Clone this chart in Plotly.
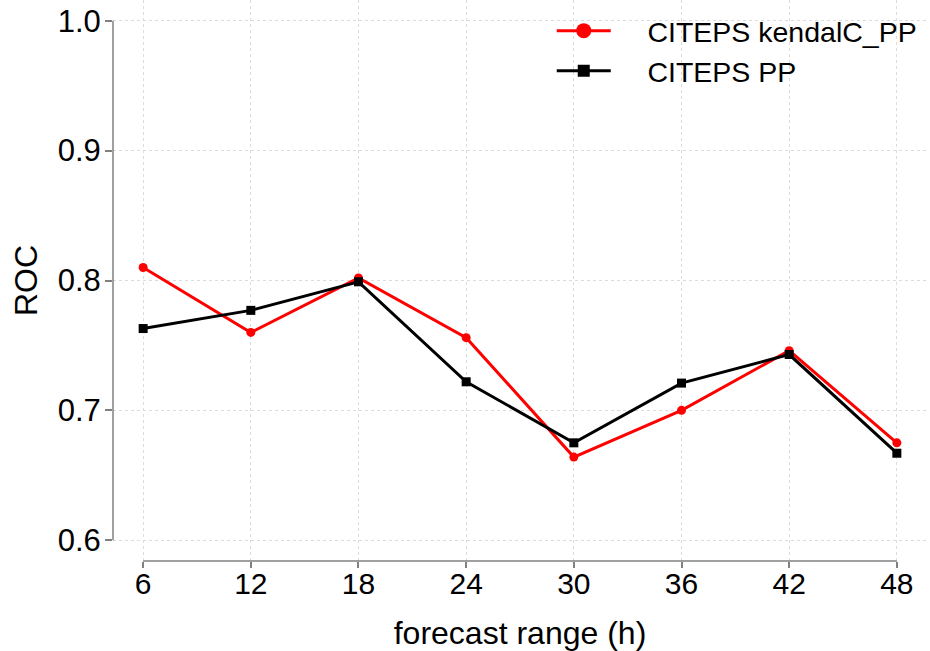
import plotly.graph_objects as go

# Forecast lead times (hours) and ROC area scores
lead_hours = [6, 12, 18, 24, 30, 36, 42, 48]
roc_kendaic_pp = [0.810, 0.760, 0.802, 0.756, 0.664, 0.700, 0.746, 0.675]
roc_pp = [0.763, 0.777, 0.799, 0.722, 0.675, 0.721, 0.743, 0.667]

y_ticks = [0.6, 0.7, 0.8, 0.9, 1.0]
y_tick_text = ["0.6", "0.7", "0.8", "0.9", "1.0"]

series_names = ["CITEPS kendalC_PP", "CITEPS PP"]
series_colors = ["#ff0000", "#000000"]
series_symbols = ["circle", "square"]

FONT = "Liberation Sans, Arial, sans-serif"
AXIS_GRAY = "#808080"
LEGEND_PAD = "\u00a0" * 4  # gap between legend symbol and label

fig = go.Figure()

for name, vals, col, sym in zip(series_names, [roc_kendaic_pp, roc_pp],
                                series_colors, series_symbols):
    fig.add_trace(go.Scatter(
        x=lead_hours, y=vals, mode="lines+markers", name=name,
        line=dict(color=col, width=3),
        marker=dict(symbol=sym, size=9, color=col),
        showlegend=False,
    ))
    # legend entry with a larger symbol
    fig.add_trace(go.Scatter(
        x=[None], y=[None], mode="lines+markers", name=LEGEND_PAD + name,
        line=dict(color=col, width=3),
        marker=dict(symbol=sym, size=15 if sym == "circle" else 12, color=col),
    ))

# R-style detached axis lines spanning first to last tick
x_lo, x_hi = min(lead_hours), max(lead_hours)
y_lo, y_hi = min(y_ticks), max(y_ticks)
pad_x = 0.04 * (x_hi - x_lo)
pad_y = 0.04 * (y_hi - y_lo)

fig.add_shape(type="line", xref="x", yref="paper", x0=x_lo, x1=x_hi, y0=0, y1=0,
              line=dict(color=AXIS_GRAY, width=1.5))
fig.add_shape(type="line", xref="paper", yref="y", x0=0, x1=0, y0=y_lo, y1=y_hi,
              line=dict(color=AXIS_GRAY, width=1.5))

fig.update_layout(
    width=930, height=651,
    margin=dict(l=113, r=3, t=0, b=90),
    paper_bgcolor="white", plot_bgcolor="white",
    font=dict(family=FONT, color="black"),
    legend=dict(
        x=0.539, y=0.99, xanchor="left", yanchor="top",
        font=dict(size=28.5, family=FONT),
        bgcolor="rgba(0,0,0,0)", tracegroupgap=0,
        itemwidth=54,
    ),
    xaxis=dict(
        range=[x_lo - pad_x, x_hi + pad_x],
        tickvals=lead_hours, ticktext=[str(h) for h in lead_hours],
        ticks="outside", ticklen=6, tickcolor=AXIS_GRAY, tickwidth=1.5,
        tickfont=dict(size=30), ticklabelstandoff=-10,
        showline=False, zeroline=False,
        showgrid=True, gridcolor="#dcdcdc", griddash="dot", gridwidth=1,
        title=dict(text="forecast range (h)", font=dict(size=32), standoff=24),
    ),
    yaxis=dict(
        range=[y_lo - pad_y, y_hi + pad_y],
        tickvals=y_ticks, ticktext=y_tick_text,
        ticks="outside", ticklen=7, tickcolor=AXIS_GRAY, tickwidth=1.5,
        tickfont=dict(size=31), ticklabelstandoff=-2,
        showline=False, zeroline=False,
        showgrid=True, gridcolor="#dcdcdc", griddash="dot", gridwidth=1,
        title=dict(text="ROC", font=dict(size=32), standoff=10),
    ),
)

fig.write_html("out.html")
